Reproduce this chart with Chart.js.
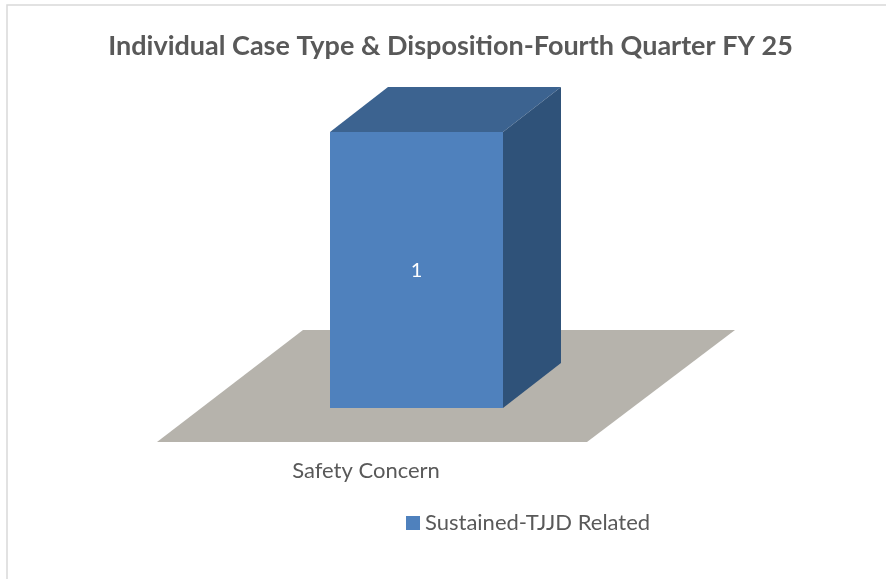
<!DOCTYPE html>
<html><head><meta charset="utf-8">
<style>html,body{margin:0;padding:0;background:#fff}canvas{display:block}</style>
<script src="https://cdn.jsdelivr.net/npm/chart.js@4/dist/chart.umd.min.js"></script>
</head><body><canvas id="c" width="886" height="579"></canvas>
<script>
const chartTitle = "Individual Case Type & Disposition-Fourth Quarter FY 25";
const categories = ["Safety Concern"];
const seriesName = "Sustained-TJJD Related";
const seriesValues = [1];
const FONT = "Lato, 'Open Sans', sans-serif";
const TEXT = "#595959";

const depth = {dx: 58, dy: 45};
const scene = {
  id: "scene",
  afterLayout(chart) {
    chart.titleBlock.left = 0; chart.titleBlock.right = 901;
    chart.legend.left = 396; chart.legend.right = 886;
    chart.legend.top = 502;
  },
  beforeDraw(chart) {
    const c = chart.ctx;
    c.save();
    c.fillStyle = "#fff"; c.fillRect(0, 0, chart.width, chart.height);
    c.strokeStyle = "#D9D9D9"; c.lineWidth = 1.5;
    c.beginPath(); c.moveTo(7, chart.height); c.lineTo(7, 5); c.lineTo(chart.width, 5); c.stroke();
    c.restore();
  },
  beforeDatasetsDraw(chart) {
    const c = chart.ctx, a = chart.chartArea;
    c.save();
    c.fillStyle = "#B6B3AC";
    c.beginPath();
    c.moveTo(a.left - 44.5, a.bottom + 34);
    c.lineTo(a.right - 44.5, a.bottom + 34);
    c.lineTo(a.right + 103.5, a.bottom - 78);
    c.lineTo(a.left + 101.5, a.bottom - 78);
    c.closePath(); c.fill();
    const b = chart.getDatasetMeta(0).data[0];
    const l = b.x - b.width / 2, r = b.x + b.width / 2;
    c.fillStyle = "#3C6390";
    c.beginPath();
    c.moveTo(l, b.y); c.lineTo(l + depth.dx, b.y - depth.dy);
    c.lineTo(r + depth.dx, b.y - depth.dy); c.lineTo(r, b.y);
    c.closePath(); c.fill();
    c.fillStyle = "#2F5279";
    c.beginPath();
    c.moveTo(r, b.y); c.lineTo(r + depth.dx, b.y - depth.dy);
    c.lineTo(r + depth.dx, b.base - depth.dy); c.lineTo(r, b.base);
    c.closePath(); c.fill();
    c.restore();
  },
  afterDatasetsDraw(chart) {
    const c = chart.ctx, b = chart.getDatasetMeta(0).data[0];
    c.save();
    c.fillStyle = "#fff"; c.font = "20px " + FONT;
    c.textAlign = "center"; c.textBaseline = "middle";
    c.fillText(String(seriesValues[0]), b.x, (b.y + b.base) / 2 + 1);
    c.restore();
  },
  afterDraw(chart) {
    const h = chart.legend.legendHitBoxes[0], c = chart.ctx;
    c.save();
    c.fillStyle = chart.data.datasets[0].backgroundColor;
    c.fillRect(h.left, chart.legend.top + 14, 14, 14);
    c.restore();
  }
};

new Chart(document.getElementById("c"), {
  type: "bar",
  data: {
    labels: categories,
    datasets: [{
      label: seriesName, data: seriesValues, backgroundColor: "#4F81BD",
      borderWidth: 0, barPercentage: 0.4023, categoryPercentage: 1
    }]
  },
  options: {
    responsive: false, animation: false,
    layout: {padding: {left: 201.5, right: 254.5, top: 0, bottom: 0}},
    plugins: {
      tooltip: {enabled: false},
      title: {display: true, text: chartTitle, color: TEXT,
        font: {family: FONT, size: 27, weight: "bold", lineHeight: 1.2},
        padding: {top: 30, bottom: 69.6}},
      legend: {position: "bottom", align: "start",
        labels: {boxWidth: 8, boxHeight: 12, padding: 10, color: TEXT,
          font: {family: FONT, size: 22}}}
    },
    scales: {
      x: {grid: {display: false, drawTicks: false}, border: {display: false},
        ticks: {color: TEXT, font: {family: FONT, size: 22}, padding: 50, labelOffset: -50.5, maxRotation: 0},
        afterFit(s) { s.height = 129; }},
      y: {display: false, min: 0, max: 1}
    }
  },
  plugins: [scene]
});
</script></body></html>
